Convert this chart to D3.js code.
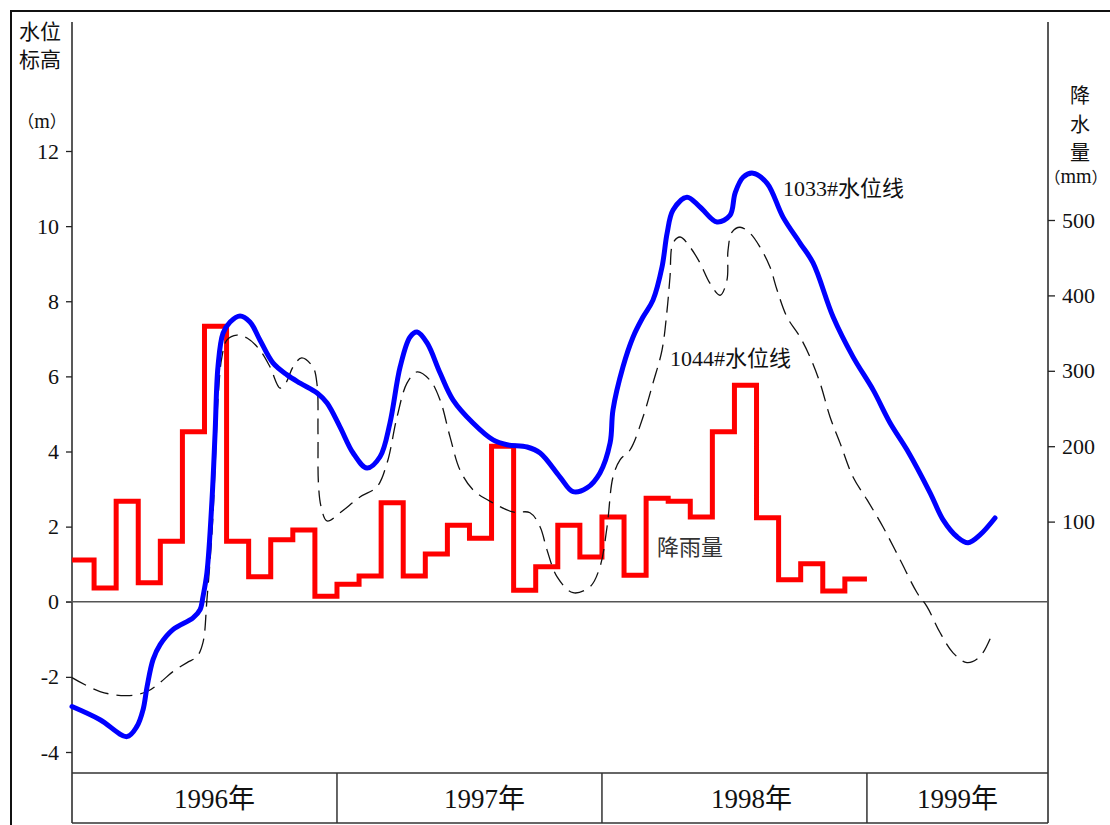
<!DOCTYPE html>
<html><head><meta charset="utf-8">
<script src="https://cdn.jsdelivr.net/npm/d3@7"></script>
<style>
html,body{margin:0;padding:0;background:#fff;}
svg{display:block;}
</style></head><body>
<svg id="chart" width="1110" height="825"></svg>
<script>
// ---- data ----
const yearLabels = ["1996年", "1997年", "1998年", "1999年"];
const levelTicks = [-4, -2, 0, 2, 4, 6, 8, 10, 12];
const rainTicks = [100, 200, 300, 400, 500];

// monthly rainfall (mm), Jan 1996 – Dec 1998
const rainMonths = d3.range(36);
const rainfall = [
  49, 12, 127, 19, 74, 219, 359, 74, 27, 76, 89, 1,
  17, 28, 125, 28, 57, 95, 78, 200, 9, 40, 95, 53,
  106, 29, 131, 127, 106, 219, 281, 105, 23, 44, 8, 24
];

// well 1033 water level (m); time in months since Jan 1996
const well1033Months = [0, 1.27, 2.49, 2.94, 3.22, 3.40, 3.67, 3.99, 4.57, 5.48, 5.80, 5.93, 6.11, 6.34, 6.48, 6.61, 6.84, 7.16, 7.61, 8.06, 8.51, 9.10, 9.74, 10.33, 11.10, 11.55, 12.14, 12.73, 13.36, 13.95, 14.40, 14.86, 15.31, 15.63, 16.08, 16.67, 17.26, 18.16, 19.07, 19.70, 20.61, 21.20, 22.10, 22.69, 23.32, 23.91, 24.37, 24.50, 24.95, 25.41, 25.86, 26.31, 26.72, 26.95, 27.22, 27.85, 28.44, 29.21, 29.80, 30.03, 30.39, 30.84, 31.48, 32.20, 32.97, 33.56, 34.47, 35.37, 36.28, 37.05, 37.82, 38.86, 39.45, 40.08, 40.58, 41.12, 41.80];
const well1033Levels = [-2.79, -3.14, -3.59, -3.32, -2.87, -2.26, -1.54, -1.14, -0.74, -0.43, -0.21, 0.13, 0.77, 2.71, 4.49, 6.25, 7.15, 7.45, 7.61, 7.45, 6.97, 6.36, 6.04, 5.82, 5.56, 5.29, 4.65, 3.96, 3.56, 3.86, 4.76, 6.25, 7.05, 7.18, 6.89, 6.09, 5.37, 4.76, 4.31, 4.18, 4.12, 3.96, 3.32, 2.93, 3.03, 3.43, 4.23, 5.11, 6.25, 7.05, 7.58, 8.03, 8.91, 9.81, 10.43, 10.77, 10.51, 10.11, 10.29, 10.88, 11.30, 11.41, 11.14, 10.24, 9.55, 9.02, 7.58, 6.52, 5.64, 4.76, 4.04, 2.90, 2.18, 1.73, 1.57, 1.78, 2.23];

// well 1044 water level (m)
const well1044Months = [0, 1.27, 2.49, 3.40, 3.99, 4.57, 5.21, 5.66, 5.93, 6.11, 6.34, 6.48, 6.61, 6.79, 7.02, 7.47, 7.93, 8.51, 8.97, 9.42, 9.68, 10.01, 10.40, 10.91, 11.10, 11.14, 11.16, 11.28, 11.55, 12.14, 13.04, 13.81, 14.27, 14.72, 15.17, 15.63, 16.21, 16.67, 17.12, 17.57, 18.16, 19.07, 19.97, 20.74, 21.20, 21.51, 21.97, 22.69, 23.46, 23.91, 24.23, 24.50, 24.82, 25.27, 25.86, 26.31, 26.72, 26.95, 27.08, 27.22, 27.54, 27.99, 28.44, 28.89, 29.35, 29.66, 29.71, 29.89, 30.25, 30.71, 31.16, 31.61, 31.93, 32.38, 32.97, 33.42, 33.88, 34.33, 34.78, 35.37, 36.01, 36.73, 37.50, 38.27, 38.72, 39.31, 39.90, 40.53, 41.12, 41.71];
const well1044Levels = [-2.02, -2.39, -2.50, -2.39, -2.15, -1.86, -1.62, -1.46, -1.09, 0.05, 1.84, 3.59, 5.37, 6.52, 6.97, 7.10, 7.02, 6.70, 6.25, 5.69, 5.82, 6.25, 6.49, 6.25, 5.77, 4.49, 3.16, 2.53, 2.15, 2.37, 2.79, 3.06, 3.70, 4.92, 5.82, 6.12, 5.90, 5.37, 4.39, 3.51, 2.98, 2.63, 2.39, 2.37, 1.99, 1.38, 0.66, 0.24, 0.40, 0.93, 1.99, 3.32, 3.78, 4.04, 4.92, 5.82, 6.70, 7.77, 8.64, 9.55, 9.71, 9.44, 9.02, 8.48, 8.16, 8.56, 9.36, 9.84, 9.97, 9.81, 9.44, 8.91, 8.30, 7.58, 7.05, 6.52, 5.82, 4.92, 4.23, 3.32, 2.71, 1.99, 1.12, 0.24, -0.13, -0.82, -1.36, -1.62, -1.46, -0.80];

// ---- layout ----
const FONT = "'Liberation Serif', 'Noto Sans CJK SC', serif";
const left = 72, right = 1048;
const plotTop = 22, stripTop = 773, stripBottom = 823;

const svg = d3.select("#chart");

const x = d3.scaleLinear().domain([0, 44.2]).range([left, right]);
const y = d3.scaleLinear().domain([-4, 12]).range([752, 151]);
const yRain = d3.scaleLinear().domain([0, 500]).range([597, 220]);

// outer frame
svg.append("rect")
  .attr("x", 11).attr("y", 11).attr("width", 1130).attr("height", 840)
  .attr("fill", "none").attr("stroke", "#111").attr("stroke-width", 2);

// axis lines (run through the year strip)
svg.append("line").attr("x1", left).attr("x2", left).attr("y1", plotTop).attr("y2", stripBottom)
  .attr("stroke", "#222").attr("stroke-width", 1.5);
svg.append("line").attr("x1", right).attr("x2", right).attr("y1", plotTop).attr("y2", stripBottom)
  .attr("stroke", "#222").attr("stroke-width", 1.5);

// left axis: water level
const gL = svg.append("g").attr("transform", `translate(${left},0)`)
  .call(d3.axisLeft(y).tickValues(levelTicks).tickFormat(d => String(d)).tickSize(6).tickPadding(7));
gL.select(".domain").remove();
gL.attr("font-family", FONT).attr("font-size", 22);
gL.selectAll("line").attr("stroke", "#222").attr("stroke-width", 1.3);
gL.selectAll("text").attr("fill", "#111");

// right axis: rainfall
const gR = svg.append("g").attr("transform", `translate(${right},0)`)
  .call(d3.axisRight(yRain).tickValues(rainTicks).tickFormat(d => String(d)).tickSize(7).tickPadding(7));
gR.select(".domain").remove();
gR.attr("font-family", FONT).attr("font-size", 22);
gR.selectAll("line").attr("stroke", "#222").attr("stroke-width", 1.3);
gR.selectAll("text").attr("fill", "#111");

// zero line
svg.append("line").attr("x1", left - 6).attr("x2", right).attr("y1", y(0)).attr("y2", y(0))
  .attr("stroke", "#555").attr("stroke-width", 1.5);

// year strip
const strip = svg.append("g").attr("stroke", "#333").attr("stroke-width", 1.5);
[stripTop, stripBottom].forEach(v =>
  strip.append("line").attr("x1", left).attr("x2", right).attr("y1", v).attr("y2", v));
[12, 24, 36].forEach(m =>
  strip.append("line").attr("x1", x(m)).attr("x2", x(m)).attr("y1", stripTop).attr("y2", stripBottom));
const yearCenters = [x(6) + 10, x(18) + 15, x(30) + 17, (x(36) + right) / 2];
svg.append("g").selectAll("text").data(yearLabels).join("text")
  .attr("x", (d, i) => yearCenters[i]).attr("y", 808)
  .attr("text-anchor", "middle").attr("font-family", FONT).attr("font-size", 27).attr("fill", "#111")
  .text(d => d);

// axis titles
const title = svg.append("g").attr("font-family", FONT).attr("fill", "#111").attr("text-anchor", "middle");
title.append("text").attr("x", 40).attr("y", 39).attr("font-size", 21).text("水位");
title.append("text").attr("x", 40).attr("y", 67).attr("font-size", 21).text("标高");

// unit in full-width brackets; the letters a little larger than the brackets
function unitLabel(cx, cy, bracketSize, letterSize, unit) {
  const t = title.append("text").attr("x", cx).attr("y", cy);
  t.append("tspan").attr("font-size", bracketSize).text("（");
  t.append("tspan").attr("font-size", letterSize).text(unit);
  t.append("tspan").attr("font-size", bracketSize).text("）");
}
unitLabel(42, 128, 17, 20, "m");
[["降", 103], ["水", 132], ["量", 160]].forEach(([t, yy]) =>
  title.append("text").attr("x", 1080).attr("y", yy).attr("font-size", 20).text(t));
unitLabel(1076, 183, 16, 20, "mm");

// rainfall step line
const rainPts = rainMonths.map((m, i) => ({ m, v: rainfall[i] }));
rainPts.push({ m: 36, v: rainfall[rainfall.length - 1] });
svg.append("path").datum(rainPts)
  .attr("d", d3.line().x(d => x(d.m)).y(d => yRain(d.v)).curve(d3.curveStepAfter))
  .attr("fill", "none").attr("stroke", "#ff0000").attr("stroke-width", 5)
  .attr("stroke-linejoin", "miter").attr("stroke-linecap", "butt");

// water level lines
const levelLine = d3.line().x(d => x(d.m)).y(d => y(d.v)).curve(d3.curveCatmullRom.alpha(0.5));
const w1044 = well1044Months.map((m, i) => ({ m, v: well1044Levels[i] }));
const w1033 = well1033Months.map((m, i) => ({ m, v: well1033Levels[i] }));

svg.append("path").datum(w1044).attr("d", levelLine)
  .attr("fill", "none").attr("stroke", "#111").attr("stroke-width", 1.3)
  .attr("stroke-dasharray", "16,8");

svg.append("path").datum(w1033).attr("d", levelLine)
  .attr("fill", "none").attr("stroke", "#0000ff").attr("stroke-width", 5)
  .attr("stroke-linejoin", "round").attr("stroke-linecap", "round");

// series labels
const lab = svg.append("g").attr("font-family", FONT).attr("font-size", 22);
lab.append("text").attr("x", 783).attr("y", 196).attr("fill", "#111").text("1033#水位线");
lab.append("text").attr("x", 670).attr("y", 366).attr("fill", "#111").text("1044#水位线");
lab.append("text").attr("x", 657).attr("y", 555).attr("fill", "#333").text("降雨量");
</script>
</body></html>
